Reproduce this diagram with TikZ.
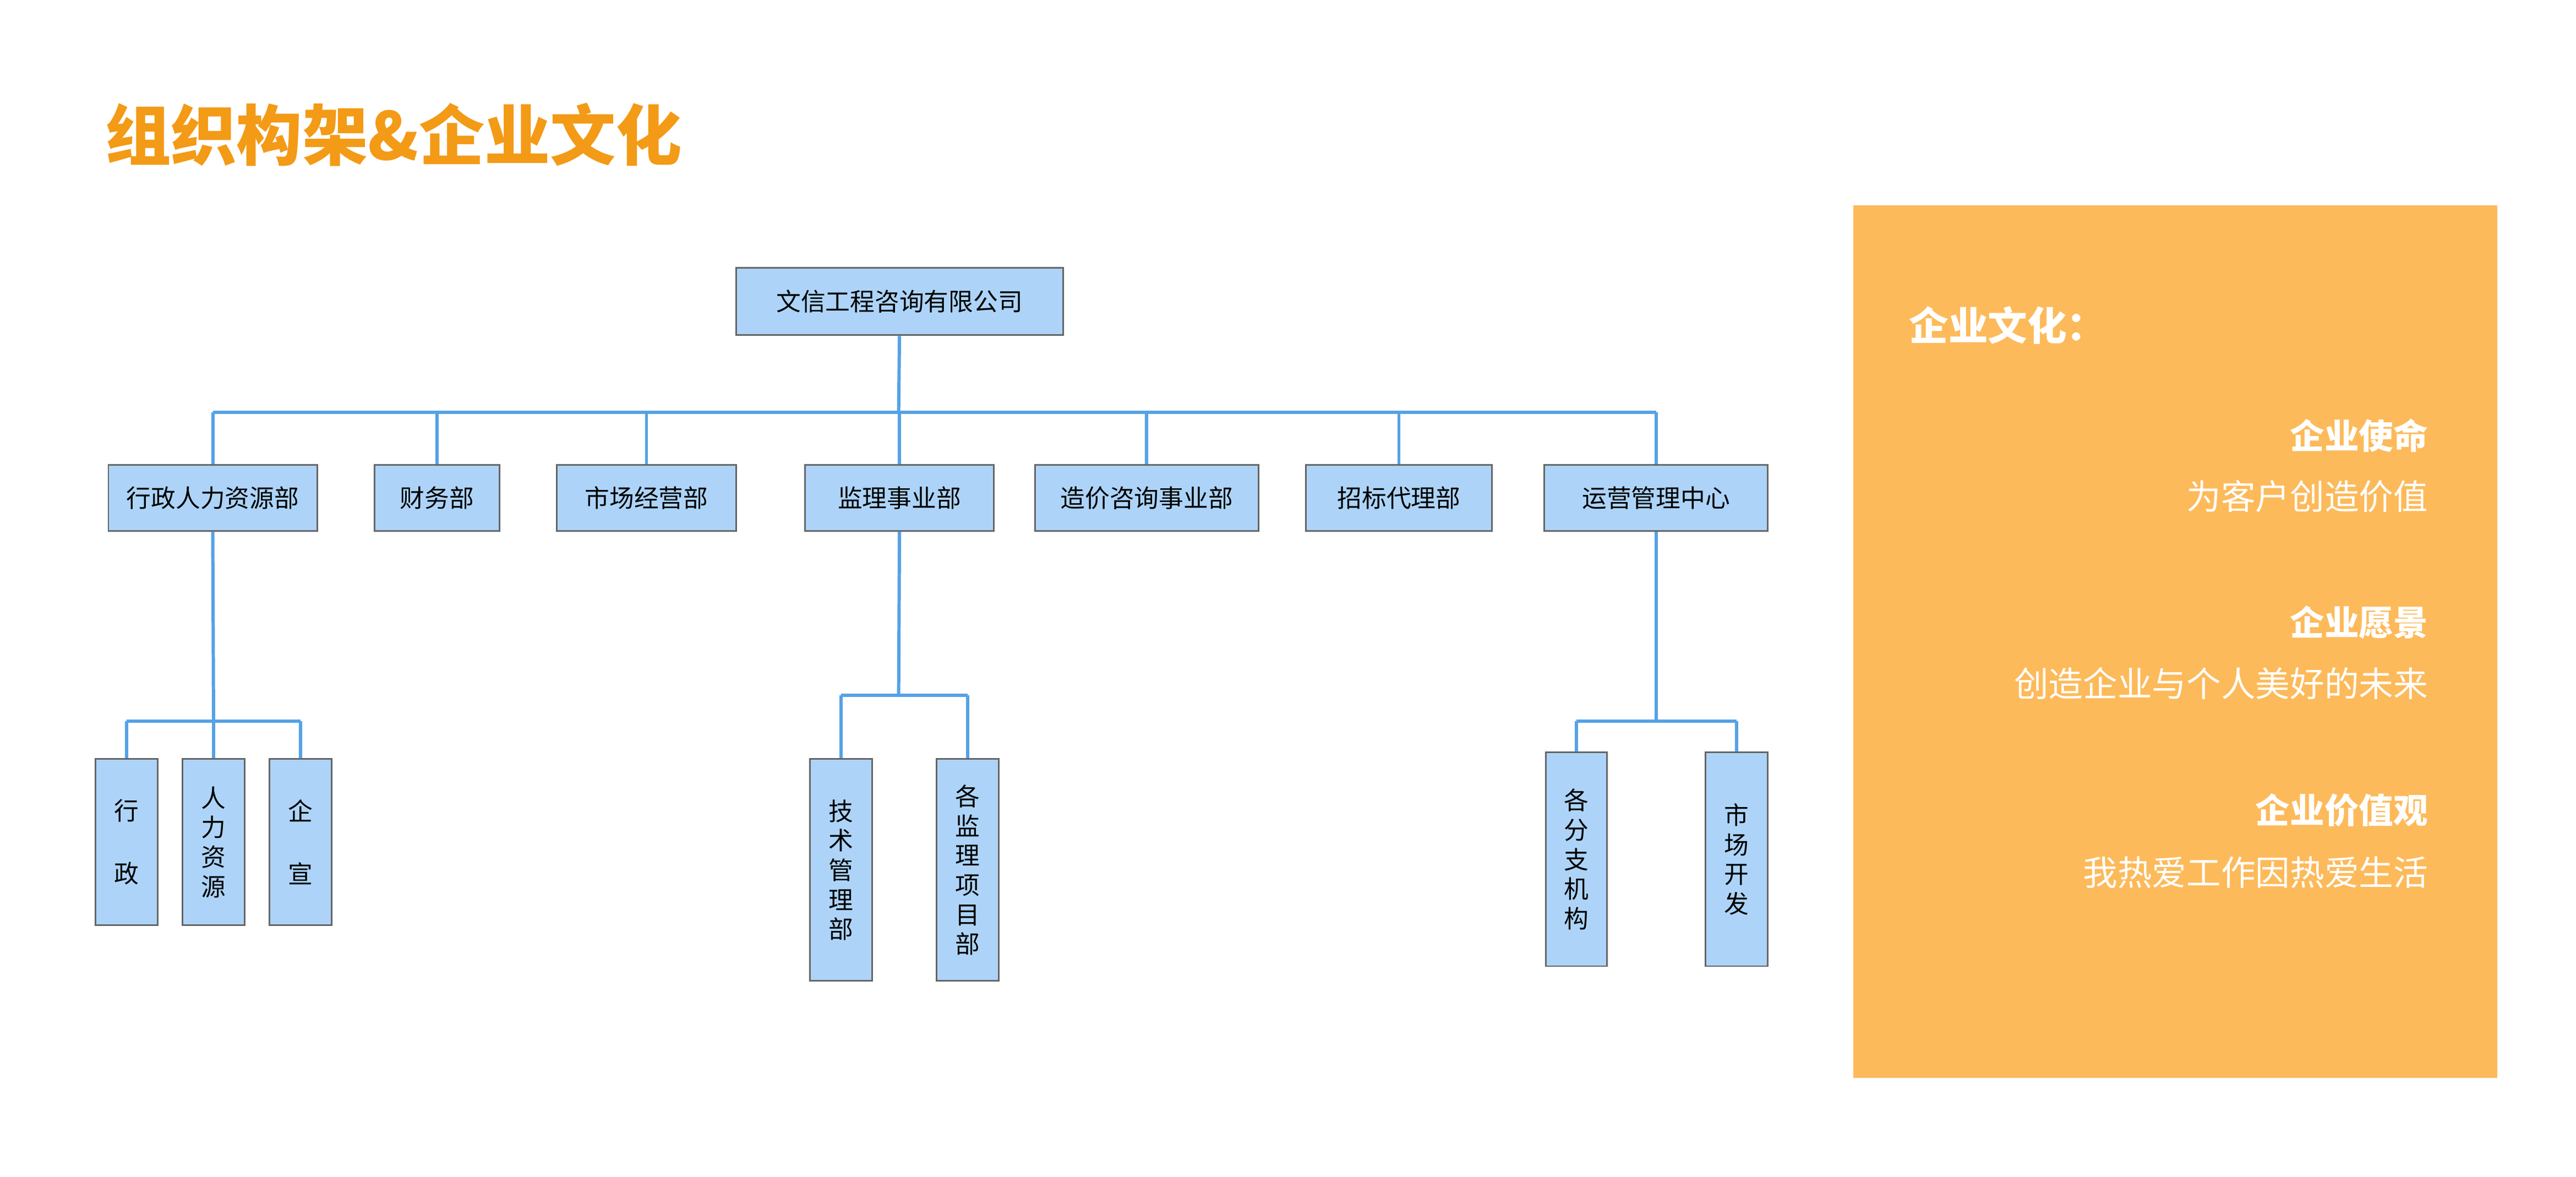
\documentclass[tikz,border=0pt]{standalone}
\usepackage{fontspec}
\setmainfont{Noto Sans CJK SC}
\begin{document}
\begin{tikzpicture}[x=0.5pt,y=-0.5pt,
 box/.style={draw=black!60,fill=boxblue,line width=0.5pt,inner sep=0pt,font=\fontsize{7.5}{9}\selectfont},
 link/.style={draw=lineblue,line width=1pt},
 vt/.style={align=center}]
\definecolor{boxblue}{HTML}{ADD4F8}
\definecolor{lineblue}{HTML}{55A2E6}
\definecolor{ttl}{HTML}{F39A16}
\definecolor{cult}{HTML}{FDBA5A}
\useasboundingbox (0,0) rectangle (1568,716);
\node[anchor=west,text=ttl,font=\fontsize{20}{24}\selectfont\bfseries] (title) at (57,82) {组织构架\&企业文化};
\fill[cult] (1128,125) rectangle (1520,656);
% boxes: use minimum sizes
\newcommand{\bx}[6]{\node[box,minimum width=#3*0.5pt,minimum height=#4*0.5pt] (#1) at (#2) {#5};}
\node[box,minimum width=99.5pt,minimum height=20.5pt] (top) at (547.5,183.5) {文信工程咨询有限公司};
\node[box,minimum width=63.5pt,minimum height=20pt] (a1) at (129.5,303) {行政人力资源部};
\node[box,minimum width=38pt,minimum height=20pt] (a2) at (266,303) {财务部};
\node[box,minimum width=54.5pt,minimum height=20pt] (a3) at (393.5,303) {市场经营部};
\node[box,minimum width=57.5pt,minimum height=20pt] (a4) at (547.5,303) {监理事业部};
\node[box,minimum width=68pt,minimum height=20pt] (a5) at (698,303) {造价咨询事业部};
\node[box,minimum width=56.5pt,minimum height=20pt] (a6) at (851.5,303) {招标代理部};
\node[box,minimum width=68pt,minimum height=20pt] (a7) at (1008,303) {运营管理中心};
\node[box,vt,minimum width=19pt,minimum height=50.5pt] (b1) at (77,512.5) {行\\[10pt]政};
\node[box,vt,minimum width=19pt,minimum height=50.5pt] (b2) at (130,512.5) {人\\力\\资\\源};
\node[box,vt,minimum width=19pt,minimum height=50.5pt] (b3) at (183,512.5) {企\\[10pt]宣};
\node[box,vt,minimum width=19pt,minimum height=67.5pt] (c1) at (512,529.5) {技\\术\\管\\理\\部};
\node[box,vt,minimum width=19pt,minimum height=67.5pt] (c2) at (589,529.5) {各\\监\\理\\项\\目\\部};
\node[box,vt,minimum width=18.5pt,minimum height=65pt] (d1) at (959.5,523) {各\\分\\支\\机\\构};
\node[box,vt,minimum width=19pt,minimum height=65pt] (d2) at (1057,523) {市\\场\\开\\发};
\coordinate (bus) at (547,251);
\draw[link] (top.south) -- (bus);
\foreach \n in {a1,a2,a3,a4,a5,a6,a7} \draw[link] (bus -| \n.north) -- (\n.north);
\draw[link] (bus -| a1.north) -- (bus -| a7.north);
\coordinate (bb) at (130,439);
\draw[link] (a1.south) -- (bb);
\draw[link] (bb -| b1.north) -- (bb -| b3.north);
\foreach \n in {b1,b2,b3} \draw[link] (bb -| \n.north) -- (\n.north);
\coordinate (cb) at (547,423);
\draw[link] (a4.south) -- (cb);
\draw[link] (cb -| c1.north) -- (cb -| c2.north);
\foreach \n in {c1,c2} \draw[link] (cb -| \n.north) -- (\n.north);
\coordinate (db) at (1008,439);
\draw[link] (a7.south) -- (db);
\draw[link] (db -| d1.north) -- (db -| d2.north);
\foreach \n in {d1,d2} \draw[link] (db -| \n.north) -- (\n.north);
% culture
\begin{scope}[every node/.style={text=white}]
\node[anchor=west,font=\fontsize{12}{14}\selectfont\bfseries] (k0) at (1155,198) {企业文化：};
\node[anchor=east,font=\fontsize{10.5}{12}\selectfont\bfseries] (k1) at (1485,265) {企业使命};
\node[anchor=east,font=\fontsize{10.5}{12}\selectfont] (k2) at (1485,302) {为客户创造价值};
\node[anchor=east,font=\fontsize{10.5}{12}\selectfont\bfseries] (k3) at (1485,379) {企业愿景};
\node[anchor=east,font=\fontsize{10.5}{12}\selectfont] (k4) at (1485,416) {创造企业与个人美好的未来};
\node[anchor=east,font=\fontsize{10.5}{12}\selectfont\bfseries] (k5) at (1485,493) {企业价值观};
\node[anchor=east,font=\fontsize{10.5}{12}\selectfont] (k6) at (1485,531) {我热爱工作因热爱生活};
\end{scope}
\end{tikzpicture}
\end{document}
